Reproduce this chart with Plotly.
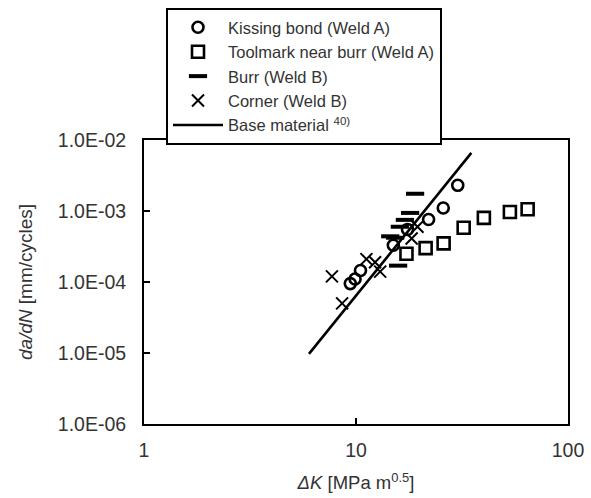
import plotly.graph_objects as go

# Kissing bond (Weld A)
kb_dk = [9.4, 9.9, 10.5, 15.0, 17.5, 22.0, 25.8, 30.2]
kb_dadn = [9.5e-5, 1.1e-4, 1.45e-4, 3.3e-4, 5.5e-4, 7.6e-4, 1.1e-3, 2.3e-3]

# Toolmark near burr (Weld A)
tm_dk = [17.3, 21.3, 25.9, 32.2, 40.1, 53.2, 64.5]
tm_dadn = [2.5e-4, 3.0e-4, 3.5e-4, 5.8e-4, 8.0e-4, 9.7e-4, 1.06e-3]

# Burr (Weld B)
bu_dk = [19.0, 18.0, 17.0, 16.1, 14.5, 15.3, 15.8]
bu_dadn = [1.75e-3, 9.4e-4, 7.5e-4, 6.0e-4, 4.4e-4, 4.2e-4, 1.7e-4]

# Corner (Weld B)
co_dk = [7.7, 8.6, 11.2, 12.3, 13.0, 18.3, 19.5]
co_dadn = [1.2e-4, 5.0e-5, 2.1e-4, 1.9e-4, 1.4e-4, 4.1e-4, 6.0e-4]

# Base material
bm_dk = [6.0, 35.0]
bm_dadn = [9.7e-6, 6.6e-3]

y_tickvals = [1e-6, 1e-5, 1e-4, 1e-3, 1e-2]
y_ticktext = ["1.0E-06", "1.0E-05", "1.0E-04", "1.0E-03", "1.0E-02"]
x_tickvals = [1, 10, 100]
x_ticktext = ["1", "10", "100"]

FONT = "Liberation Sans, Arial, sans-serif"
TXT = "#333333"

fig = go.Figure()
fig.add_trace(go.Scatter(x=kb_dk, y=kb_dadn, mode="markers", name="Kissing bond (Weld A)",
                         marker=dict(symbol="circle-open", size=11, color="black", line=dict(width=2.6))))
fig.add_trace(go.Scatter(x=tm_dk, y=tm_dadn, mode="markers", name="Toolmark near burr (Weld A)",
                         marker=dict(symbol="square-open", size=12, color="black", line=dict(width=2.6))))
fig.add_trace(go.Scatter(x=bu_dk, y=bu_dadn, mode="markers", name="Burr (Weld B)",
                         marker=dict(symbol="line-ew", size=13, color="black", line=dict(width=4, color="black"))))
fig.add_trace(go.Scatter(x=co_dk, y=co_dadn, mode="markers", name="Corner (Weld B)",
                         marker=dict(symbol="x-thin", size=12, color="black", line=dict(width=2, color="black"))))
fig.add_trace(go.Scatter(x=bm_dk, y=bm_dadn, mode="lines", name="Base material <sup>40)</sup>",
                         line=dict(color="black", width=2.6)))

fig.update_layout(
    width=591, height=498,
    margin=dict(l=144, r=23, t=140, b=74, autoexpand=False),
    paper_bgcolor="white", plot_bgcolor="white",
    font=dict(family=FONT, size=18, color=TXT),
    showlegend=True,
    legend=dict(x=(166 - 144) / 424, y=1 + (140 - 8) / 284, xanchor="left", yanchor="top",
                bgcolor="white", bordercolor="black", borderwidth=2,
                font=dict(family=FONT, size=16.5, color=TXT),
                itemwidth=50, tracegroupgap=0),
    xaxis=dict(type="log", range=[0, 2], tickvals=x_tickvals, ticktext=x_ticktext,
               automargin=False,
               showgrid=False, zeroline=False, showline=True, linecolor="black", linewidth=2,
               mirror=True, ticks="inside", ticklen=6, tickwidth=2, tickcolor="black",
               ticklabelstandoff=8, tickfont=dict(size=19.5),
               title=dict(text="<i>ΔK</i> [MPa m<sup>0.5</sup>]", standoff=16,
                          font=dict(family=FONT, size=18.5, color=TXT))),
    yaxis=dict(type="log", range=[-6, -2], tickvals=y_tickvals, ticktext=y_ticktext,
               automargin=False,
               showgrid=False, zeroline=False, showline=True, linecolor="black", linewidth=2,
               mirror=True, ticks="inside", ticklen=6, tickwidth=2, tickcolor="black",
               ticklabelstandoff=12, tickfont=dict(size=19.5),
               title=dict(text="<i>da/dN</i> [mm/cycles]", standoff=20,
                          font=dict(family=FONT, size=19, color=TXT))),
)

fig.write_html("out.html")
